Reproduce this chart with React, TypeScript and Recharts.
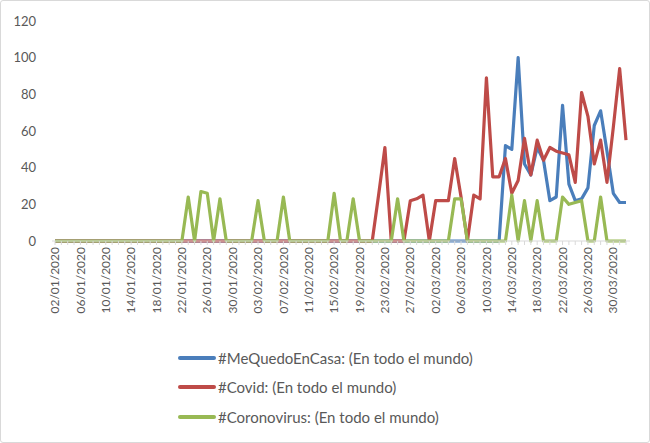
import { LineChart, Line, XAxis, YAxis, Legend } from "recharts";

const dates = [
  "02/01/2020", "03/01/2020", "04/01/2020", "05/01/2020", "06/01/2020", "07/01/2020", "08/01/2020", "09/01/2020", "10/01/2020", "11/01/2020",
  "12/01/2020", "13/01/2020", "14/01/2020", "15/01/2020", "16/01/2020", "17/01/2020", "18/01/2020", "19/01/2020", "20/01/2020", "21/01/2020",
  "22/01/2020", "23/01/2020", "24/01/2020", "25/01/2020", "26/01/2020", "27/01/2020", "28/01/2020", "29/01/2020", "30/01/2020", "31/01/2020",
  "01/02/2020", "02/02/2020", "03/02/2020", "04/02/2020", "05/02/2020", "06/02/2020", "07/02/2020", "08/02/2020", "09/02/2020", "10/02/2020",
  "11/02/2020", "12/02/2020", "13/02/2020", "14/02/2020", "15/02/2020", "16/02/2020", "17/02/2020", "18/02/2020", "19/02/2020", "20/02/2020",
  "21/02/2020", "22/02/2020", "23/02/2020", "24/02/2020", "25/02/2020", "26/02/2020", "27/02/2020", "28/02/2020", "29/02/2020", "01/03/2020",
  "02/03/2020", "03/03/2020", "04/03/2020", "05/03/2020", "06/03/2020", "07/03/2020", "08/03/2020", "09/03/2020", "10/03/2020", "11/03/2020",
  "12/03/2020", "13/03/2020", "14/03/2020", "15/03/2020", "16/03/2020", "17/03/2020", "18/03/2020", "19/03/2020", "20/03/2020", "21/03/2020",
  "22/03/2020", "23/03/2020", "24/03/2020", "25/03/2020", "26/03/2020", "27/03/2020", "28/03/2020", "29/03/2020", "30/03/2020", "31/03/2020",
  "01/04/2020",
];

// #MeQuedoEnCasa
const meQuedo = [
  0, 0, 0, 0, 0, 0, 0, 0, 0, 0,
  0, 0, 0, 0, 0, 0, 0, 0, 0, 0,
  0, 0, 0, 0, 0, 0, 0, 0, 0, 0,
  0, 0, 0, 0, 0, 0, 0, 0, 0, 0,
  0, 0, 0, 0, 0, 0, 0, 0, 0, 0,
  0, 0, 0, 0, 0, 0, 0, 0, 0, 0,
  0, 0, 0, 0, 0, 0, 0, 0, 0, 0,
  0, 52, 50, 100, 42, 36, 51, 44, 22, 24,
  74, 31, 22, 23, 29, 63, 71, 49, 26, 21,
  21,
];

// #Covid
const covid = [
  0, 0, 0, 0, 0, 0, 0, 0, 0, 0,
  0, 0, 0, 0, 0, 0, 0, 0, 0, 0,
  0, 0, 0, 0, 0, 0, 0, 0, 0, 0,
  0, 0, 0, 0, 0, 0, 0, 0, 0, 0,
  0, 0, 0, 0, 0, 0, 0, 0, 0, 0,
  0, 25, 51, 0, 0, 0, 22, 23, 25, 0,
  22, 22, 22, 45, 24, 0, 25, 23, 89, 35,
  35, 45, 26, 33, 56, 36, 55, 44, 51, 49,
  48, 47, 32, 81, 68, 42, 55, 32, 62, 94,
  55,
];

// #Coronovirus
const coronovirus = [
  0, 0, 0, 0, 0, 0, 0, 0, 0, 0,
  0, 0, 0, 0, 0, 0, 0, 0, 0, 0,
  0, 24, 0, 27, 26, 0, 23, 0, 0, 0,
  0, 0, 22, 0, 0, 0, 24, 0, 0, 0,
  0, 0, 0, 0, 26, 0, 0, 23, 0, 0,
  0, 0, 0, 0, 23, 0, 0, 0, 0, 0,
  0, 0, 0, 23, 23, 0, 0, 0, 0, 0,
  0, 0, 25, 0, 22, 0, 22, 0, 0, 0,
  24, 20, 21, 22, 0, 0, 24, 0, 0, 0,
  0,
];

const yTicks = [0, 20, 40, 60, 80, 100, 120];

const series = [
  { key: "meQuedo", name: "#MeQuedoEnCasa: (En todo el mundo)", color: "#4a7ebb" },
  { key: "covid", name: "#Covid: (En todo el mundo)", color: "#be4b48" },
  { key: "coronovirus", name: "#Coronovirus: (En todo el mundo)", color: "#98b954" },
];

const data = dates.map((date, i) => ({
  date,
  meQuedo: meQuedo[i],
  covid: covid[i],
  coronovirus: coronovirus[i],
}));

const FONT = "Lato, 'Open Sans', sans-serif";
const TEXT = "#595959";

function DateTick({ x, y, payload, index }: { x?: number; y?: number; payload?: { value: string }; index?: number }) {
  if ((index ?? 0) % 4 !== 0) return <g />;
  return (
    <text
      x={x}
      y={y}
      dy="0.35em"
      transform={`rotate(-90, ${x}, ${y})`}
      textAnchor="end"
      fontSize={12}
      fontFamily={FONT}
      fill={TEXT}
    >
      {payload?.value}
    </text>
  );
}

function SeriesLegend() {
  return (
    <div style={{ paddingLeft: 177, paddingTop: 3, fontFamily: FONT, fontSize: 15, color: TEXT }}>
      {series.map((s) => (
        <div key={s.key} style={{ height: 29.5, display: "flex", alignItems: "center" }}>
          <span style={{ display: "inline-block", width: 38, height: 4, borderRadius: 2, background: s.color, marginRight: 2 }} />
          <span>{s.name}</span>
        </div>
      ))}
    </div>
  );
}

export default function App() {
  return (
    <div
      style={{
        position: "absolute",
        left: 0,
        top: 0,
        width: 650,
        height: 443,
        boxSizing: "border-box",
        border: "1px solid #d9d9d9",
        borderRadius: 3,
        background: "#fff",
        overflow: "hidden",
      }}
    >
      <LineChart width={648} height={441} data={data} margin={{ top: 20, right: 19, bottom: 12, left: 11 }}>
        <XAxis
          dataKey="date"
          interval={0}
          tick={<DateTick />}
          tickSize={4}
          tickMargin={2}
          stroke="#d9d9d9"
          height={99}
          padding={{ left: 3, right: 4 }}
        />
        <YAxis
          domain={[0, 120]}
          ticks={yTicks}
          width={40}
          axisLine={false}
          tickLine={false}
          tickSize={0}
          tickMargin={16}
          tick={{ fontSize: 13, fontFamily: FONT, fill: TEXT }}
        />
        <Legend
          verticalAlign="bottom"
          content={<SeriesLegend />}
          wrapperStyle={{ left: 0, width: 648, height: 90 }}
        />
        {series.map((s) => (
          <Line
            key={s.key}
            type="linear"
            dataKey={s.key}
            name={s.name}
            stroke={s.color}
            strokeWidth={3.2}
            strokeLinejoin="round"
            dot={false}
            activeDot={false}
            isAnimationActive={false}
          />
        ))}
      </LineChart>
    </div>
  );
}
